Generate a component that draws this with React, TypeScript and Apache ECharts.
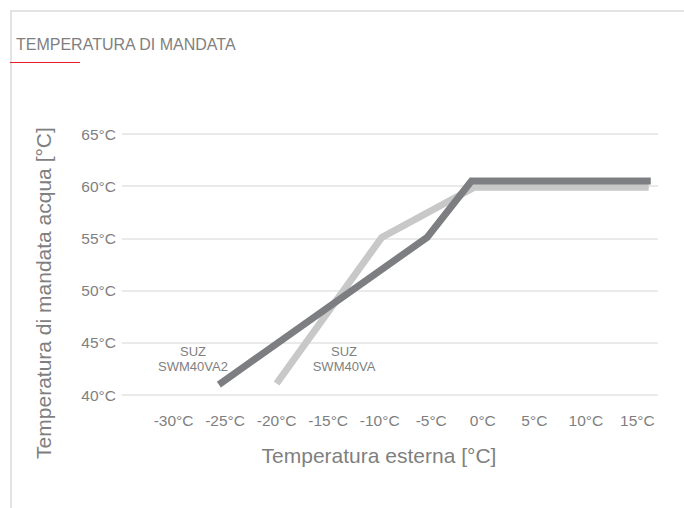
import React, { useEffect, useRef } from "react";
import * as echarts from "echarts";

// Data
const xTickValues = [-30, -25, -20, -15, -10, -5, 0, 5, 10, 15];
const yTickValues = [40, 45, 50, 55, 60, 65];

// SUZ SWM40VA (light grey)
const swm40vaX = [-20, -9.8, -0.8, 16.1];
const swm40vaY = [41.1, 55.1, 59.9, 59.9];

// SUZ SWM40VA2 (dark grey)
const swm40va2X = [-25.6, -5.4, -1.1, 16.3];
const swm40va2Y = [41.0, 55.1, 60.5, 60.5];

const seriesNames = ["SUZ\nSWM40VA", "SUZ\nSWM40VA2"];
const titleText = "TEMPERATURA DI MANDATA";
const xAxisName = "Temperatura esterna [°C]";
const yAxisName = "Temperatura di mandata acqua [°C]";

const FONT = "'Liberation Sans', Arial, Helvetica, sans-serif";
const TEXT_COLOR = "#7f7f7f";

export default function App() {
  const ref = useRef<HTMLDivElement>(null);

  useEffect(() => {
    if (!ref.current) return;
    const chart = echarts.init(ref.current, null, { renderer: "svg" });

    const zip = (xs: number[], ys: number[]) => xs.map((x, i) => [x, ys[i]]);

    chart.setOption({
      animation: false,
      backgroundColor: "#ffffff",
      textStyle: { fontFamily: FONT },
      grid: { left: 122, right: 26, top: 134, bottom: 113, containLabel: false },
      xAxis: {
        type: "value",
        min: -35,
        max: 17,
        interval: 5,
        axisLine: { show: false },
        axisTick: { show: false },
        splitLine: { show: false },
        axisLabel: {
          color: TEXT_COLOR,
          fontSize: 15.5,
          fontFamily: FONT,
          margin: 17,
          formatter: (v: number) => (xTickValues.indexOf(v) >= 0 ? `${v}°C` : ""),
        },
      },
      yAxis: {
        type: "value",
        min: yTickValues[0],
        max: yTickValues[yTickValues.length - 1],
        interval: 5,
        axisLine: { show: false },
        axisTick: { show: false },
        splitLine: { show: true, lineStyle: { color: "#e3e3e3", width: 1.5 } },
        axisLabel: {
          color: TEXT_COLOR,
          fontSize: 15.5,
          fontFamily: FONT,
          margin: 6,
          formatter: (v: number) => `${v}°C`,
        },
      },
      series: [
        {
          name: seriesNames[0],
          type: "line",
          data: zip(swm40vaX, swm40vaY),
          symbol: "none",
          lineStyle: { color: "#c8c8c8", width: 7, cap: "butt", join: "miter" },
          z: 2,
        },
        {
          name: seriesNames[1],
          type: "line",
          data: zip(swm40va2X, swm40va2Y),
          symbol: "none",
          lineStyle: { color: "#7d7e82", width: 7, cap: "butt", join: "miter" },
          z: 3,
        },
      ],
      graphic: [
        {
          type: "rect",
          silent: true,
          z: -10,
          shape: { x: 11, y: 11, width: 700, height: 540 },
          style: { fill: "none", stroke: "#e3e3e3", lineWidth: 2 },
        },
        {
          type: "text",
          x: 16,
          y: 44,
          style: {
            text: titleText,
            fill: TEXT_COLOR,
            font: `16px ${FONT}`,
            textAlign: "left",
            textVerticalAlign: "middle",
          },
        },
        {
          type: "line",
          shape: { x1: 10, y1: 62.5, x2: 80, y2: 62.5 },
          style: { stroke: "#e51e25", lineWidth: 1 },
        },
        {
          type: "text",
          x: 43,
          y: 293,
          rotation: Math.PI / 2,
          style: {
            text: yAxisName,
            fill: TEXT_COLOR,
            font: `21px ${FONT}`,
            textAlign: "center",
            textVerticalAlign: "middle",
          },
        },
        {
          type: "text",
          x: 379,
          y: 455,
          style: {
            text: xAxisName,
            fill: TEXT_COLOR,
            font: `21px ${FONT}`,
            textAlign: "center",
            textVerticalAlign: "middle",
          },
        },
        {
          type: "text",
          x: 193,
          y: 359,
          style: {
            text: seriesNames[1],
            fill: TEXT_COLOR,
            font: `13px ${FONT}`,
            lineHeight: 15,
            textAlign: "center",
            textVerticalAlign: "middle",
          },
        },
        {
          type: "text",
          x: 344,
          y: 359,
          style: {
            text: seriesNames[0],
            fill: TEXT_COLOR,
            font: `13px ${FONT}`,
            lineHeight: 15,
            textAlign: "center",
            textVerticalAlign: "middle",
          },
        },
      ],
    });

    return () => chart.dispose();
  }, []);

  return (
    <div
      ref={ref}
      style={{ position: "fixed", left: 0, top: 0, width: 684, height: 508 }}
    />
  );
}
